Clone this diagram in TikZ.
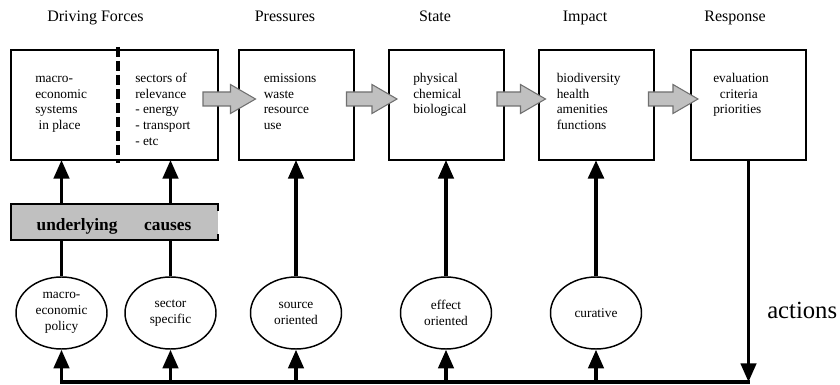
\documentclass[tikz,border=0pt]{standalone}
\usepackage{fontspec}
\setmainfont{Liberation Serif}
\usetikzlibrary{arrows.meta,shapes.geometric,calc}
\definecolor{barfill}{HTML}{C0C0C0}
\definecolor{arrowedge}{HTML}{707070}

% grey block arrow from a start point #1 to a tip point #2 (both on the arrow axis)
\newcommand\blockarrow[2]{%
  \draw[blockarr] ($(#1)+(0,-7)$) -- ($(#2)+(-25,-7)$) -- ($(#2)+(-25,-14.5)$)
    -- (#2) -- ($(#2)+(-25,14.5)$) -- ($(#2)+(-25,7)$) -- ($(#1)+(0,7)$) -- cycle;}

\begin{document}
\begin{tikzpicture}[x=0.75pt,y=-0.75pt,
  stage/.style={draw, line width=1.5pt, minimum width=86.25pt, minimum height=82.5pt,
    inner sep=0pt, outer sep=0pt},
  boxtext/.style={anchor=north west, align=left, inner sep=0pt,
    font=\fontsize{10}{11.8}\selectfont},
  title/.style={anchor=base, inner sep=0pt, font=\fontsize{12}{14}\selectfont},
  policy/.style={ellipse, draw, line width=1.1pt, minimum width=68.25pt,
    minimum height=54pt, inner sep=0pt, align=center,
    font=\fontsize{10}{12}\selectfont},
  link/.style={line width=2.6pt},
  arr/.style={link, -{Triangle[width=11.5pt,length=14pt]}},
  blockarr/.style={fill=barfill, draw=arrowedge, line width=0.8pt, line join=miter}]

\useasboundingbox (0,0) rectangle (840,385);

% column titles
\node[title] (tdf)  at (95.5,22) {Driving Forces};
\node[title] (tpr)  at (285,22)  {Pressures};
\node[title] (tst)  at (435,22)  {State};
\node[title] (tim)  at (585,22)  {Impact};
\node[title] (tre)  at (735,22)  {Response};

% DPSIR boxes
\node[stage, minimum width=155.25pt] (b1) at (114.5,105) {};
\node[stage] (b2) at (296,105) {};
\node[stage] (b3) at (446.5,105) {};
\node[stage] (b4) at (596,105) {};
\node[stage] (b5) at (748.5,105) {};

% split of the driving forces box
\draw[line width=2.5pt, dash pattern=on 7.5pt off 3pt] (118,47) -- (118,163);

% box contents
\node[boxtext] (t1a) at ($(b1.north west)+(24,21)$) {\strut macro-\\economic\\systems\\\hspace{2.5pt}in place};
\node[boxtext] (t1b) at ($(b1.north west)+(124,21)$) {\strut sectors of\\relevance\\- energy\\- transport\\- etc};
\node[boxtext] (t2) at ($(b2.north west)+(25,21)$) {\strut emissions\\waste\\resource\\use};
\node[boxtext] (t3) at ($(b3.north west)+(24,21)$) {\strut physical\\chemical\\biological};
\node[boxtext] (t4) at ($(b4.north west)+(18,21)$) {\strut biodiversity\\health\\amenities\\functions};
\node[boxtext] (t5) at ($(b5.north west)+(22,21)$) {\strut evaluation\\\hspace{5pt}criteria\\priorities};

% grey flow arrows between the boxes
\coordinate (g1s) at ($(b1.east)+(-15,-6)$); \coordinate (g1t) at ($(b2.west)+(17,-6)$);
\coordinate (g2s) at ($(b2.east)+(-7,-6)$);  \coordinate (g2t) at ($(b3.west)+(8,-6)$);
\coordinate (g3s) at ($(b3.east)+(-7,-6)$);  \coordinate (g3t) at ($(b4.west)+(7,-6)$);
\coordinate (g4s) at ($(b4.east)+(-5,-6)$);  \coordinate (g4t) at ($(b5.west)+(7,-6)$);
\blockarrow{g1s}{g1t}
\blockarrow{g2s}{g2t}
\blockarrow{g3s}{g3t}
\blockarrow{g4s}{g4t}

% underlying causes bar (right side left open)
\node[fill=barfill, minimum width=155.25pt, minimum height=27pt, inner sep=0pt, outer sep=0pt] (bar) at (114.5,222) {};
\draw[line width=1.3pt] ($(bar.north east)+(0,7)$) -- (bar.north east) -- (bar.north west)
  -- (bar.south west) -- (bar.south east) -- ($(bar.south east)+(0,-6)$);
\node[anchor=base, inner sep=0pt, font=\bfseries\fontsize{13}{15}\selectfont] (causes) at (114,230.5) {underlying\hspace{20pt}causes};

% policy ellipses
\node[policy] (e1) at (61.5,313) {macro-\\economic\\policy};
\node[policy] (e2) at (170.5,313) {sector\\specific};
\node[policy] (e3) at (296,313) {source\\oriented};
\node[policy] (e4) at (446,313) {effect\\oriented};
\node[policy] (e5) at (596,313) {curative};

% feedback loop
\coordinate (bl) at (60,382);
\coordinate (br) at (750,382);

\draw[link] (e1.north) -- (e1.north |- bar.south);
\draw[arr] (e1.north |- bar.north) -- (e1.north |- b1.south);
\draw[link, line width=1.8pt] (e2.north) -- (e2.north |- bar.south);
\draw[arr] (e2.north |- bar.north) -- (e2.north |- b1.south);
\draw[arr] (e3.north) -- (e3.north |- b2.south);
\draw[arr] (e4.north) -- (e4.north |- b3.south);
\draw[arr, line width=3.4pt] (e5.north) -- (e5.north |- b4.south);

\draw[arr] (b5.south) -- (b5.south |- br);
\draw[link] (bl) -- (br);
\foreach \e in {e1,e2,e3,e4,e5}
  \draw[arr] (\e.south |- bl) -- (\e.south);

\node[anchor=base west, inner sep=0pt, font=\fontsize{18.5}{22}\selectfont] (actions) at (767,318) {actions};
\end{tikzpicture}
\end{document}
